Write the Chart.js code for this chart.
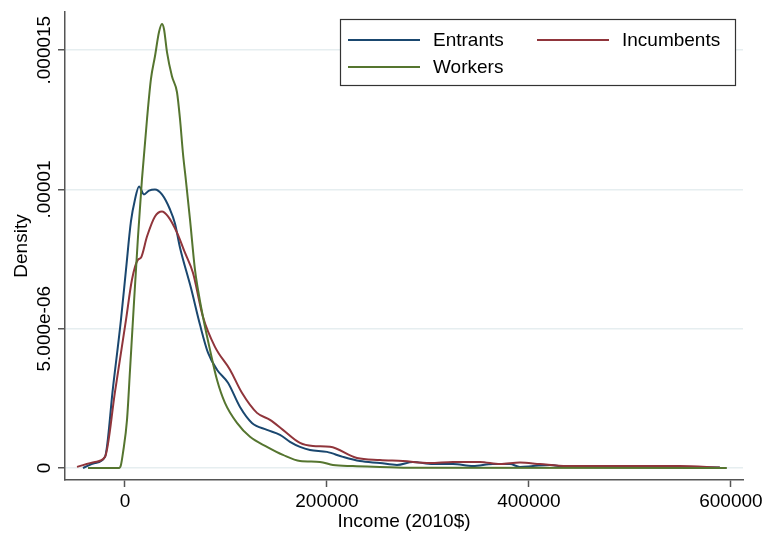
<!DOCTYPE html>
<html>
<head>
<meta charset="utf-8">
<script src="https://cdn.jsdelivr.net/npm/chart.js@4.4.1/dist/chart.umd.min.js"></script>
<style>
  html, body { margin: 0; padding: 0; background: #fff; }
  #wrap { width: 766px; height: 533px; }
</style>
</head>
<body>
<div id="wrap"><canvas id="densityChart" width="766" height="533"></canvas></div>
<script>
// kernel density of income, densities in units of 1e-6
const seriesNames = ['Entrants', 'Incumbents', 'Workers'];
const seriesColors = ['#1a476f', '#90353b', '#55752f'];

const entrantsIncome = [-41600, -29700, -19800, -11900, -4000, 1000, 5900, 9900, 13900, 18800, 23800, 29700, 36600, 44600, 49500, 54500, 65300, 74300, 82200, 91100, 102000, 113900, 125700, 140600, 153500, 163400, 173300, 183200, 200000, 215800, 232700, 252500, 269300, 285100, 305000, 324800, 344600, 364400, 381200, 391100, 404000, 420800, 437600, 463400, 510000, 589000];
const entrantsDensity = [0, 0.18, 0.40, 2.88, 5.32, 7.12, 8.85, 9.64, 10.11, 9.82, 9.96, 10.0, 9.82, 9.28, 8.78, 7.91, 6.47, 5.14, 4.14, 3.53, 3.06, 2.19, 1.62, 1.37, 1.19, 0.94, 0.76, 0.65, 0.58, 0.40, 0.25, 0.18, 0.11, 0.22, 0.14, 0.14, 0.07, 0.14, 0.14, 0.04, 0.07, 0.11, 0.04, 0.07, 0.04, 0.02];

const incumbentsIncome = [-47500, -29700, -19800, -9900, 1000, 6900, 12900, 15800, 21800, 29700, 36600, 42600, 51500, 59400, 67300, 77200, 89100, 104000, 115800, 130700, 143600, 156400, 173300, 186100, 203000, 229700, 252500, 275200, 302000, 324800, 351500, 371300, 391100, 410900, 437600, 470300, 519800, 549500, 589100];
const incumbentsDensity = [0.04, 0.22, 0.40, 2.73, 5.32, 6.76, 7.48, 7.55, 8.31, 9.03, 9.21, 9.03, 8.45, 7.73, 7.01, 5.43, 4.35, 3.53, 2.70, 1.98, 1.73, 1.37, 0.90, 0.79, 0.76, 0.36, 0.29, 0.25, 0.18, 0.22, 0.22, 0.14, 0.20, 0.14, 0.07, 0.07, 0.07, 0.07, 0.02];

const workersIncome = [-36600, -5900, -4000, -2000, 2000, 5000, 7900, 12900, 16800, 21800, 25700, 29700, 33700, 36600, 38600, 41600, 46500, 51500, 54500, 57400, 60400, 64400, 69300, 72300, 77200, 84200, 91100, 99000, 110900, 123800, 140600, 156400, 173300, 193100, 205900, 225700, 252500, 285100, 596000];
const workersDensity = [0, 0, 0.11, 0.54, 1.73, 3.53, 5.32, 8.31, 10.36, 12.52, 13.96, 14.78, 15.65, 15.94, 15.76, 14.93, 14.06, 13.49, 12.52, 11.3, 10.3, 8.92, 7.12, 6.40, 5.43, 4.24, 3.17, 2.34, 1.62, 1.12, 0.76, 0.47, 0.25, 0.22, 0.11, 0.07, 0.04, 0.01, 0];

const xTickValues = [0, 200000, 400000, 600000];
const yTickValues = [0, 5, 10, 15];
const yTickLabels = ['0', '5.000e-06', '.00001', '.000015'];

const FONT = '"Liberation Sans", Arial, Helvetica, sans-serif';
const AXIS_COLOR = '#555555';
const GRID_COLOR = '#e6eef0';

Chart.defaults.font.family = FONT;
Chart.defaults.font.size = 19;
Chart.defaults.color = '#000';

function pairs(xs, ys) {
    return xs.map((x, i) => ({ x: x, y: ys[i] }));
}

const allSeries = [
    pairs(entrantsIncome, entrantsDensity),
    pairs(incumbentsIncome, incumbentsDensity),
    pairs(workersIncome, workersDensity)
];

// y tick labels are rotated like Stata's, and the legend sits inside the plot
const stataExtras = {
    id: 'stataExtras',
    afterDraw(chart) {
        const ctx = chart.ctx;
        const yScale = chart.scales.y;
        ctx.save();
        ctx.font = '19px ' + FONT;
        ctx.fillStyle = '#000';
        ctx.textAlign = 'center';
        ctx.textBaseline = 'alphabetic';
        yTickValues.forEach((v, i) => {
            ctx.save();
            ctx.translate(yScale.right - 15, yScale.getPixelForValue(v));
            ctx.rotate(-Math.PI / 2);
            ctx.fillText(yTickLabels[i], 0, 0);
            ctx.restore();
        });

        // legend box
        const box = { left: 340, top: 19, width: 395, height: 66 };
        ctx.fillStyle = '#fff';
        ctx.fillRect(box.left, box.top, box.width, box.height);
        ctx.strokeStyle = '#333';
        ctx.lineWidth = 1.2;
        ctx.strokeRect(box.left + 0.5, box.top + 0.5, box.width, box.height);

        const slots = [
            { x: 348, y: 40 },
            { x: 537, y: 40 },
            { x: 348, y: 67 }
        ];
        ctx.textAlign = 'left';
        ctx.textBaseline = 'middle';
        chart.data.datasets.forEach((ds, i) => {
            const s = slots[i];
            ctx.strokeStyle = ds.borderColor;
            ctx.lineWidth = 2;
            ctx.beginPath();
            ctx.moveTo(s.x, s.y);
            ctx.lineTo(s.x + 72, s.y);
            ctx.stroke();
            ctx.fillStyle = '#000';
            ctx.fillText(ds.label, s.x + 85, s.y + 1);
        });
        ctx.restore();
    }
};

new Chart(document.getElementById('densityChart'), {
    type: 'line',
    data: {
        datasets: allSeries.map((pts, i) => ({
            label: seriesNames[i],
            data: pts,
            borderColor: seriesColors[i],
            backgroundColor: seriesColors[i],
            borderWidth: 2,
            pointRadius: 0,
            fill: false,
            cubicInterpolationMode: 'monotone',
            order: seriesNames.length - i
        }))
    },
    options: {
        responsive: false,
        animation: false,
        devicePixelRatio: 1,
        layout: { padding: { left: 10, right: 23, top: 12, bottom: 0 } },
        plugins: {
            legend: { display: false },
            tooltip: { enabled: false }
        },
        scales: {
            x: {
                type: 'linear',
                min: -59400,
                max: 612000,
                afterBuildTicks: scale => {
                    scale.ticks = xTickValues.map(v => ({ value: v }));
                },
                afterFit: scale => {
                    scale.height = 53;
                    scale.paddingLeft = 0;
                    scale.paddingRight = 0;
                },
                ticks: {
                    padding: 3,
                    maxRotation: 0,
                    autoSkip: false,
                    callback: v => String(v)
                },
                grid: {
                    drawOnChartArea: false,
                    drawTicks: true,
                    tickLength: 7,
                    tickColor: AXIS_COLOR,
                    tickWidth: 1.5
                },
                border: { display: true, color: AXIS_COLOR, width: 1.5 },
                title: {
                    display: true,
                    text: 'Income (2010$)',
                    padding: { top: 0, bottom: 0 }
                }
            },
            y: {
                type: 'linear',
                min: -0.43,
                max: 16.37,
                afterBuildTicks: scale => {
                    scale.ticks = yTickValues.map(v => ({ value: v }));
                },
                afterFit: scale => {
                    scale.width = 55;
                    scale.paddingTop = 0;
                    scale.paddingBottom = 0;
                },
                ticks: { display: false },
                grid: {
                    color: GRID_COLOR,
                    lineWidth: 1.5,
                    drawTicks: true,
                    tickLength: 7,
                    tickColor: AXIS_COLOR,
                    tickWidth: 1.5
                },
                border: { display: true, color: AXIS_COLOR, width: 1.5 },
                title: {
                    display: true,
                    text: 'Density',
                    padding: { top: 0, bottom: 0 }
                }
            }
        }
    },
    plugins: [stataExtras]
});
</script>
</body>
</html>
